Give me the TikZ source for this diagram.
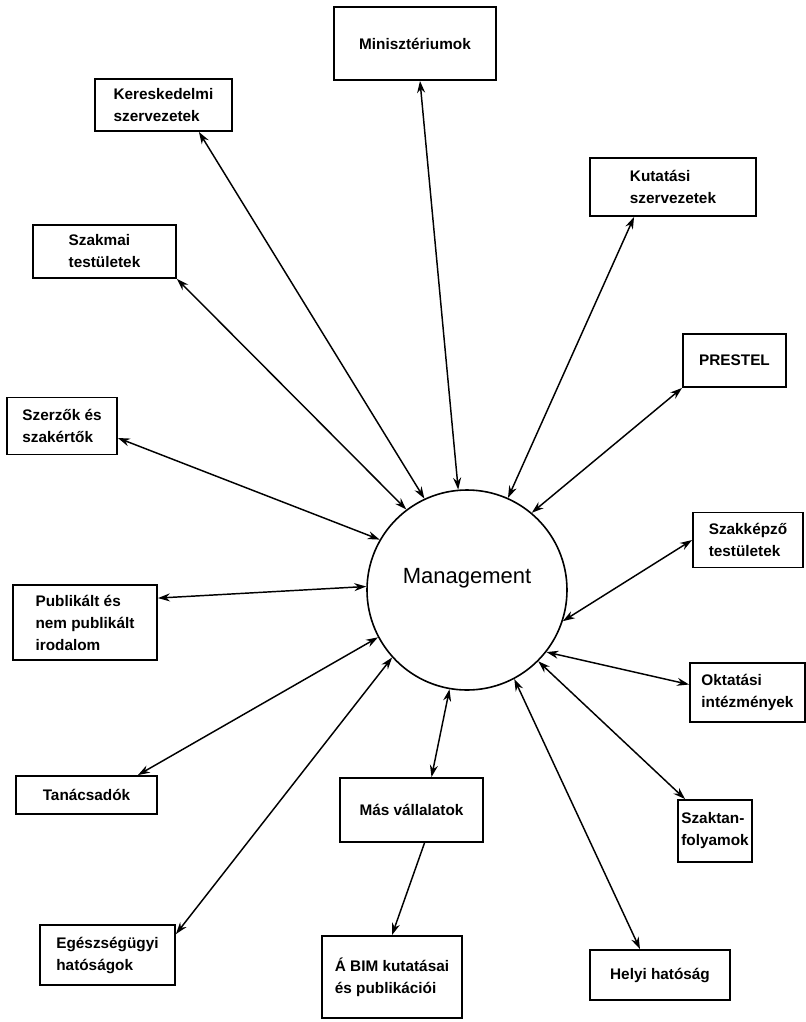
\documentclass[tikz,border=0pt]{standalone}
\usepackage{fontspec}
\setmainfont{Liberation Sans}
\usetikzlibrary{arrows.meta}
\begin{document}
\begin{tikzpicture}[x=0.75pt,y=-0.75pt,
  box/.style={draw,line width=1.4pt,rectangle,inner sep=0pt,align=left,font=\fontsize{11.5}{16.5}\selectfont\bfseries},
  conn/.style={line width=1.1pt,{Stealth[length=9pt,width=6pt]}-{Stealth[length=9pt,width=6pt]}},
  oneway/.style={line width=1.1pt,-{Stealth[length=9pt,width=6pt]}}]
\useasboundingbox (0,0) rectangle (806,1022);
\node[draw,circle,line width=1.2pt,minimum size=150pt,inner sep=0pt] (M) at (467,590) {};
\node[font=\fontsize{16.5}{18}\selectfont] (Mt) at (467,578) {Management};
\node[box,minimum width=121.5pt,minimum height=54.75pt] (min) at (415,43.5) {Minisztériumok};
\node[box,minimum width=102.75pt,minimum height=39pt] (ker) at (163.5,105) {Kereskedelmi\\szervezetek};
\node[box,minimum width=124.5pt,minimum height=43.5pt] (kut) at (673,187) {Kutatási\\szervezetek};
\node[box,minimum width=107.25pt,minimum height=39.75pt] (szm) at (104.5,251.5) {Szakmai\\testületek};
\node[box,minimum width=77.25pt,minimum height=39.75pt] (pre) at (734.5,360.5) {PRESTEL};
\node[box,minimum width=82.5pt,minimum height=42.75pt] (sze) at (62,426) {Szerzők és\\szakértők};
\node[box,minimum width=82.5pt,minimum height=41.25pt] (skp) at (748,540) {Szakképző\\testületek};
\node[box,minimum width=108pt,minimum height=56.25pt] (pub) at (85,622.5) {Publikált és\\nem publikált\\irodalom};
\node[box,minimum width=86.25pt,minimum height=44.25pt] (okt) at (747.5,692.5) {Oktatási\\intézmények};
\node[box,minimum width=105.75pt,minimum height=28.5pt] (tan) at (86.5,795) {Tanácsadók};
\node[box,minimum width=107.25pt,minimum height=48pt] (mas) at (411.5,810) {Más vállalatok};
\node[box,minimum width=55.5pt,minimum height=46.5pt] (szt) at (715,831) {Szaktan-\\folyamok};
\node[box,minimum width=101.25pt,minimum height=45pt] (egs) at (107.5,955) {Egészségügyi\\hatóságok};
\node[box,minimum width=105pt,minimum height=61.5pt] (bim) at (392,977) {Á BIM kutatásai\\és publikációi};
\node[box,minimum width=105pt,minimum height=37.5pt] (hel) at (660,975) {Helyi hatóság};
\draw[conn] (min.south) ++(5,0) coordinate (a1) (a1) -- (M.95);
\draw[conn] (ker.south east) ++(-34,0) coordinate (a2) (a2) -- (M.115);
\draw[conn] (kut.south west) ++(45,0) coordinate (a3) (a3) -- (M.66);
\draw[conn] (szm.south east) -- (M.127);
\draw[conn] (pre.south west) -- (M.50);
\draw[conn] (sze.east) ++(0,12) coordinate (a6) (a6) -- (M.150);
\draw[conn] (skp.west) -- (M.-18);
\draw[conn] (pub.north east) ++(0,14) coordinate (a8) (a8) -- (M.178);
\draw[conn] (okt.west) ++(0,-8) coordinate (a9) (a9) -- (M.-38);
\draw[conn] (tan.north east) ++(-20,0) coordinate (a10) (a10) -- (M.208);
\draw[conn] (szt.north west) ++(8,0) coordinate (a11) (a11) -- (M.-45);
\draw[conn] (egs.north east) ++(0,10) coordinate (a12) (a12) -- (M.222);
\draw[conn] (mas.north) ++(20,0) coordinate (a13) (a13) -- (M.-100);
\draw[conn] (hel.north) ++(-20,0) coordinate (a14) (a14) -- (M.-62);
\draw[oneway] (mas.south) ++(13,0) coordinate (a15) (a15) -- (bim.north);
\end{tikzpicture}
\end{document}
